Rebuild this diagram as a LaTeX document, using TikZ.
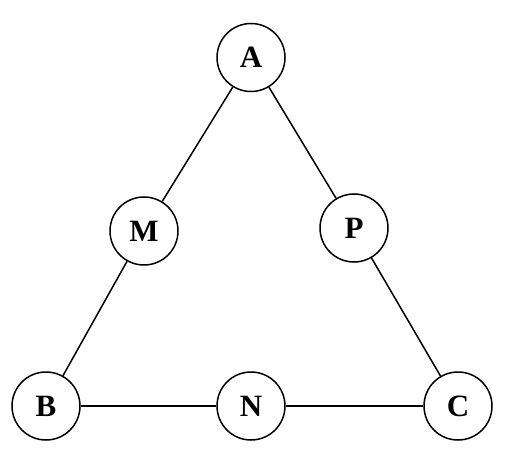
\documentclass[tikz,border=0pt]{standalone}
\usepackage{fontspec}
\setmainfont{Liberation Serif}
\usepackage{tikz}
\tikzstyle{vertex}=[circle, draw=black, line width=1.5bp, minimum size=68bp, inner sep=0pt, font=\fontsize{31bp}{31bp}\selectfont\bfseries]

\begin{document}
\begin{tikzpicture}[x=1bp, y=-1bp, line width=1.5bp]
\useasboundingbox (0,0) rectangle (508,467);
\node[vertex] (nA) at (251,57.5){A};
\node[vertex] (nM) at (144,231){M};
\node[vertex] (nP) at (354,228){P};
\node[vertex] (nB) at (46,406){B};
\node[vertex] (nN) at (251,406){N};
\node[vertex] (nC) at (458,406){C};
\draw[](nA) -- (nM);
\draw[](nM) -- (nB);
\draw[](nA) -- (nP);
\draw[](nP) -- (nC);
\draw[](nB) -- (nN);
\draw[](nN) -- (nC);
\end{tikzpicture}
\end{document}
